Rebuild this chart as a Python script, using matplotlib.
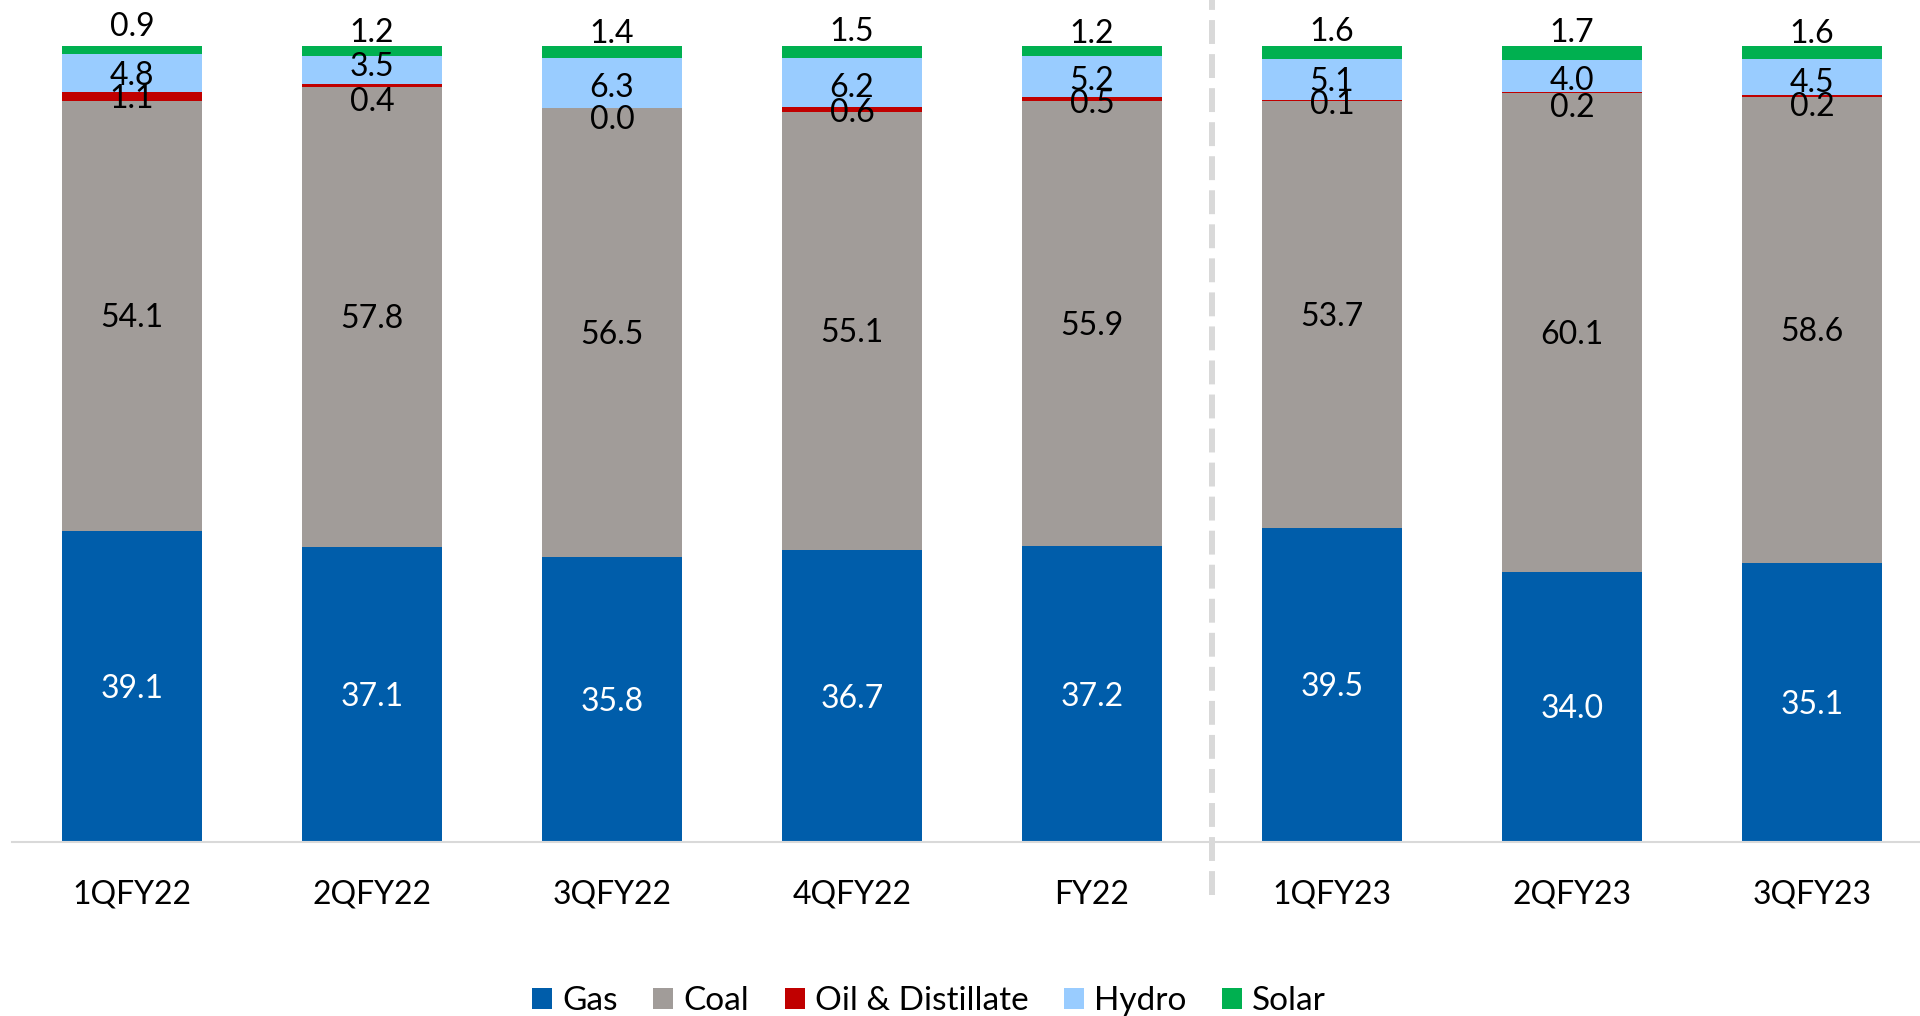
import matplotlib
matplotlib.use("Agg")
import matplotlib.pyplot as plt
import numpy as np
from matplotlib.patches import Patch

categories = ["1QFY22", "2QFY22", "3QFY22", "4QFY22", "FY22", "1QFY23", "2QFY23", "3QFY23"]
gas = [39.1, 37.1, 35.8, 36.7, 37.2, 39.5, 34.0, 35.1]
coal = [54.1, 57.8, 56.5, 55.1, 55.9, 53.7, 60.1, 58.6]
oil = [1.1, 0.4, 0.0, 0.6, 0.5, 0.1, 0.2, 0.2]
hydro = [4.8, 3.5, 6.3, 6.2, 5.2, 5.1, 4.0, 4.5]
solar = [0.9, 1.2, 1.4, 1.5, 1.2, 1.6, 1.7, 1.6]

series_names = ["Gas", "Coal", "Oil & Distillate", "Hydro", "Solar"]
series = [gas, coal, oil, hydro, solar]
colors = ["#005DAA", "#A19C99", "#C00000", "#99CCFF", "#00B050"]
label_colors = ["white", "black", "black", "black", "black"]

# label nudges in pixels (positive = downward), styling only
nudges = {
    "Gas": [0] * 8,
    "Coal": [0] * 8,
    "Oil & Distillate": [0, 14, 10, 1, 2, 2, 13, 9],
    "Hydro": [1, -5, 3, 3, 2, 0, 2.5, 3.5],
}
solar_gap_px = [10.5, 4.5, 3, 4.5, 3, 5.5, 4.5, 3]

plt.rcParams['font.family'] = ['Lato', 'DejaVu Sans']

W, H = 1920, 1016
fig = plt.figure(figsize=(W / 100, H / 100), dpi=100)
left_px, right_px = 12, 1932
base_px, top_px = 842, 46.5
ax = fig.add_axes([left_px / W, (H - base_px) / H, (right_px - left_px) / W, (base_px - top_px) / H])

x = np.arange(len(categories))
bottom = np.zeros(len(categories))
fs = 23
half_digit_px = 0.72 * fs * 100 / 72 / 2
px2pt = 0.72
for name, vals, c, lc in zip(series_names, series, colors, label_colors):
    vals = np.array(vals)
    ax.bar(x, vals, bottom=bottom, width=0.587, color=c, label=name, zorder=2)
    for i, (xi, b, v) in enumerate(zip(x, bottom, vals)):
        if name == "Solar":
            ax.annotate(f"{v:.1f}", (xi, b + v), xytext=(0, solar_gap_px[i] * px2pt),
                        textcoords="offset points", ha="center", va="baseline",
                        color=lc, fontsize=fs, zorder=4, annotation_clip=False)
        else:
            dy = -(half_digit_px + nudges[name][i]) * px2pt
            ax.annotate(f"{v:.1f}", (xi, b + v / 2), xytext=(0, dy),
                        textcoords="offset points", ha="center", va="baseline",
                        color=lc, fontsize=fs, zorder=4, annotation_clip=False)
    bottom = bottom + vals

ax.set_xlim(-0.5, len(categories) - 0.5)
ax.set_ylim(0, 100)
ax.set_yticks([])
ax.set_xticks(x)
ax.set_xticklabels(categories, fontsize=fs)
ax.tick_params(axis="x", length=0, pad=27)
for s in ["top", "right", "left"]:
    ax.spines[s].set_visible(False)
ax.spines["bottom"].set_color("#D9D9D9")
ax.spines["bottom"].set_linewidth(1.5)
ax.spines["bottom"].set_zorder(3)

ax.plot([4.5, 4.5], [-6.6, 105.8], color="#D9D9D9", lw=4.3,
        linestyle=(0, (4, 1.7)), clip_on=False, zorder=1)

handles = [Patch(facecolor=c, edgecolor="none", label=n) for n, c in zip(series_names, colors)]
fig.legend(handles=handles, loc="center", bbox_to_anchor=(929 / W, 15 / H), ncol=5,
           frameon=False, fontsize=24, handlelength=0.6, handleheight=0.6,
           handletextpad=0.3, columnspacing=1.07)

fig.savefig("out.png", dpi=100)
